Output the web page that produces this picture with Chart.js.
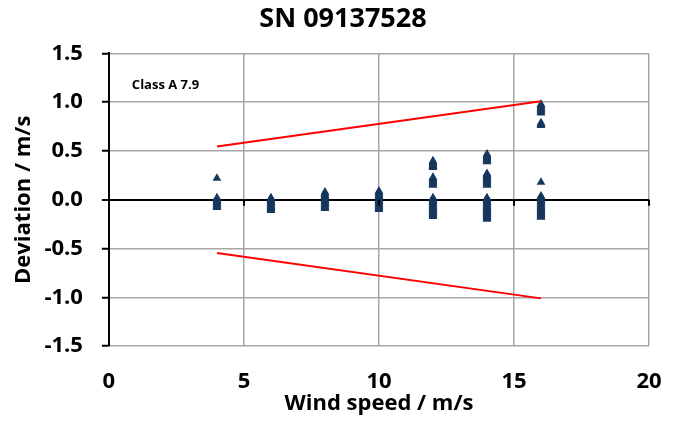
<!DOCTYPE html>
<html>
<head>
<meta charset="utf-8">
<script src="https://cdn.jsdelivr.net/npm/chart.js@4/dist/chart.umd.min.js"></script>
<style>
    html, body { margin: 0; padding: 0; background: #fff; }
    #wrap { width: 673px; height: 430px; }
</style>
</head>
<body>
<div id="wrap"><canvas id="myChart" width="673" height="430"></canvas></div>
<script>
// wind speed bins and the deviations read at each of them
var windBins = [4, 6, 8, 10, 12, 14, 16];
var dev4 = [0.22,
    0.02, 0.01, 0.00, -0.01, -0.02, -0.03, -0.04, -0.05, -0.06, -0.07, -0.08];
var dev6 = [0.02, 0.01, 0.00, -0.01, -0.02, -0.03, -0.04, -0.05, -0.06, -0.07, -0.08, -0.09, -0.10, -0.11];
var dev8 = [0.08, 0.07, 0.06, 0.05, 0.04, 0.03, 0.02, 0.01, 0.00, -0.01, -0.02, -0.03,
    -0.04, -0.05, -0.06, -0.07, -0.08, -0.09];
var dev10 = [0.09, 0.08, 0.07, 0.06, 0.05, 0.04, 0.03, 0.02, 0.01, 0.00, -0.01, -0.02,
    -0.03, -0.04, -0.05, -0.06, -0.07, -0.08, -0.09, -0.10];
var dev12 = [0.40, 0.39, 0.38, 0.37, 0.36, 0.35, 0.34, 0.33,
    0.23, 0.22, 0.21, 0.20, 0.19, 0.18, 0.17, 0.16, 0.15,
    0.02, 0.01, 0.00, -0.01, -0.02, -0.03, -0.04, -0.05, -0.06, -0.07, -0.08, -0.09,
    -0.10, -0.11, -0.12, -0.13, -0.14, -0.15, -0.16, -0.17];
var dev14 = [0.47, 0.46, 0.45, 0.44, 0.43, 0.42, 0.41, 0.40, 0.39,
    0.27, 0.26, 0.25, 0.24, 0.23, 0.22, 0.21, 0.20, 0.19, 0.18, 0.17, 0.16, 0.15,
    0.02, 0.01, 0.00, -0.01, -0.02, -0.03, -0.04, -0.05, -0.06, -0.07, -0.08, -0.09,
    -0.10, -0.11, -0.12, -0.13, -0.14, -0.15, -0.16, -0.17, -0.18, -0.19, -0.20];
var dev16 = [0.98, 0.97, 0.96, 0.95, 0.94, 0.93, 0.92, 0.91, 0.90, 0.89,
    0.79, 0.78, 0.77, 0.76,
    0.18,
    0.04, 0.03, 0.02, 0.01, 0.00, -0.01, -0.02, -0.03, -0.04, -0.05, -0.06, -0.07,
    -0.08, -0.09, -0.10, -0.11, -0.12, -0.13, -0.14, -0.15, -0.16, -0.17, -0.18];
var devByBin = [dev4, dev6, dev8, dev10, dev12, dev14, dev16];

// class A 7.9 limit lines
var limitX = [4, 16];
var upperLimit = [0.545, 1.01];
var lowerLimit = [-0.545, -1.01];

var yTicks = [-1.5, -1.0, -0.5, 0.0, 0.5, 1.0, 1.5];
var xTicks = [0, 5, 10, 15, 20];

var FONT = "'Open Sans', 'Noto Sans', sans-serif";

var points = [];
for (var i = 0; i < windBins.length; i++) {
    devByBin[i].forEach(function (v) {
        points.push({x: windBins[i], y: v});
    });
}

function limitLine(ys) {
    return limitX.map(function (x, i) {
        return {x: x, y: ys[i]};
    });
}

// zero line ticks and the class label
var extras = {
    id: 'extras',
    afterDraw: function (chart) {
        var ctx = chart.ctx;
        var xs = chart.scales.x, ys = chart.scales.y;
        var y0 = ys.getPixelForValue(0);
        ctx.save();
        ctx.strokeStyle = '#000';
        ctx.lineWidth = 2;
        xTicks.slice(1).forEach(function (t) {
            var px = Math.round(xs.getPixelForValue(t));
            ctx.beginPath();
            ctx.moveTo(px, y0);
            ctx.lineTo(px, y0 + 6);
            ctx.stroke();
        });
        ctx.fillStyle = '#000';
        ctx.font = "bold 13px " + FONT;
        ctx.textBaseline = 'middle';
        ctx.fillText('Class A 7.9', xs.getPixelForValue(0.85), ys.getPixelForValue(1.175));
        ctx.restore();
    }
};

new Chart(document.getElementById('myChart').getContext('2d'), {
    type: 'scatter',
    data: {
        datasets: [
            {
                data: points,
                pointStyle: 'triangle',
                pointRadius: 5,
                backgroundColor: '#17375E',
                borderColor: '#17375E',
                borderWidth: 0,
                order: 2
            },
            {
                type: 'line',
                data: limitLine(upperLimit),
                borderColor: '#FF0000',
                borderWidth: 2,
                pointRadius: 0,
                order: 1
            },
            {
                type: 'line',
                data: limitLine(lowerLimit),
                borderColor: '#FF0000',
                borderWidth: 2,
                pointRadius: 0,
                order: 1
            }
        ]
    },
    options: {
        responsive: false,
        animation: false,
        layout: {padding: {left: 37, right: 24, top: 2, bottom: 13}},
        plugins: {
            legend: {display: false},
            tooltip: {enabled: false},
            title: {
                display: true,
                text: 'SN 09137528',
                color: '#000',
                font: {family: FONT, size: 27, weight: 'bold'},
                padding: {top: 1, bottom: 18}
            }
        },
        scales: {
            x: {
                type: 'linear',
                min: 0,
                max: 20,
                afterBuildTicks: function (axis) {
                    axis.ticks = xTicks.map(function (v) { return {value: v}; });
                },
                afterFit: function (axis) {
                    // the label padding should not push the plot edge in
                    axis.paddingRight = 0;
                },
                border: {display: false},
                grid: {
                    color: function (c) { return c.tick && c.tick.value === 0 ? 'rgba(0,0,0,0)' : '#A6A6A6'; },
                    lineWidth: 1.5,
                    drawTicks: false
                },
                ticks: {
                    color: '#000',
                    padding: 22,
                    font: {family: FONT, size: 22, weight: 'bold'}
                },
                title: {
                    display: true,
                    text: 'Wind speed / m/s',
                    color: '#000',
                    padding: {top: -26, bottom: 0},
                    font: {family: FONT, size: 22, weight: 'bold'}
                }
            },
            y: {
                type: 'linear',
                min: -1.5,
                max: 1.5,
                afterBuildTicks: function (axis) {
                    axis.ticks = yTicks.map(function (v) { return {value: v}; });
                },
                border: {display: true, color: '#000', width: 2},
                grid: {
                    color: function (c) { return c.tick && c.tick.value === 0 ? '#000' : '#A6A6A6'; },
                    lineWidth: function (c) { return c.tick && c.tick.value === 0 ? 2 : 1.5; },
                    tickColor: '#000',
                    tickWidth: 2,
                    tickLength: 7
                },
                ticks: {
                    color: '#000',
                    padding: 19,
                    font: {family: FONT, size: 22, weight: 'bold'},
                    callback: function (v) { return Number(v).toFixed(1); }
                },
                title: {
                    display: true,
                    text: 'Deviation / m/s',
                    color: '#000',
                    padding: {top: -26, bottom: -12},
                    font: {family: FONT, size: 22, weight: 'bold'}
                }
            }
        }
    },
    plugins: [extras]
});
</script>
</body>
</html>
